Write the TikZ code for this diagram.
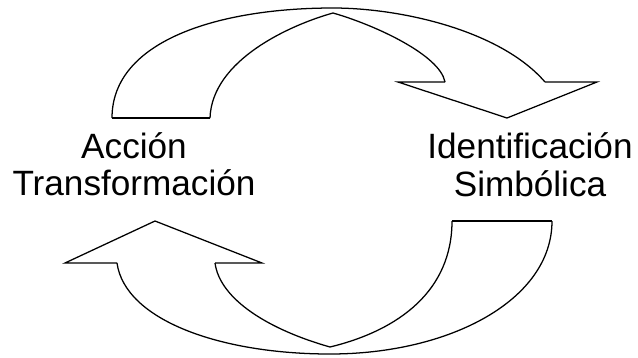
\documentclass[tikz,border=0pt]{standalone}
\usepackage{fontspec}
\setmainfont{Liberation Sans}
\begin{document}
\begin{tikzpicture}[x=0.025cm,y=-0.025cm,line width=0.9pt,line join=miter,
    every node/.style={anchor=base,inner sep=0pt,font=\fontsize{25}{29}\selectfont}]

    \useasboundingbox (0,0) rectangle (638,357);

    % upper arrow
    \draw (112,118) -- (210,118);
    \draw (112,118) .. controls (112,40) and (220,8) .. (333,8)
                    .. controls (400,8) and (500,30) .. (545,82);
    \draw (210,118) .. controls (212,60) and (290,25) .. (333,13)
                    .. controls (375,25) and (440,55) .. (445,82);
    \draw (445,82) -- (398,82) -- (507,118) -- (597,82) -- (545,82);

    % lower arrow
    \draw (452,221) -- (552,221);
    \draw (552,221) .. controls (552,300) and (450,354) .. (330,354)
                    .. controls (220,354) and (125,320) .. (117,263);
    \draw (452,221) .. controls (452,290) and (400,330) .. (330,347)
                    .. controls (270,330) and (220,300) .. (215,263);
    \draw (215,263) -- (262,263) -- (155,221) -- (65,263) -- (117,263);

    \node (accion) at (134,158) {Acción};
    \node (transf) at (134,195) {Transformación};

    \node (ident) at (530,158) {Identificación};
    \node (simb) at (530,196) {Simbólica};

\end{tikzpicture}
\end{document}
